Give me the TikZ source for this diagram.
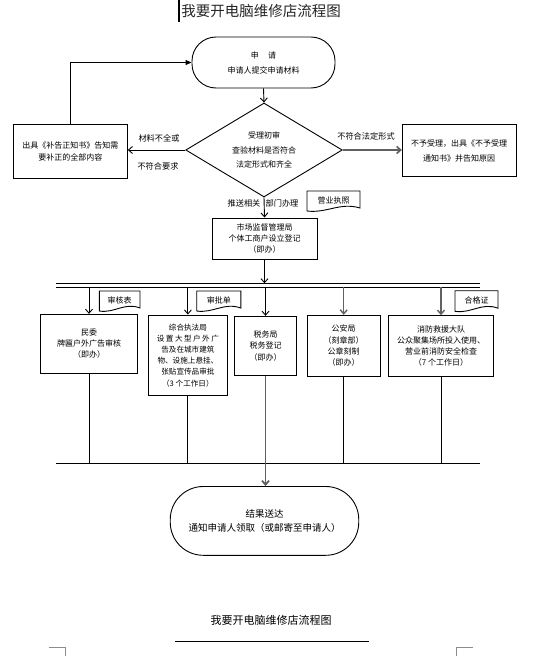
\documentclass[tikz,border=0pt]{standalone}
\usepackage{fontspec}
\setmainfont{Noto Sans CJK SC}
\usetikzlibrary{arrows.meta,shapes.geometric}
\newcommand\docshp[6]{%
  \draw[ln] (#2,#3) -- (#4,#3) -- (#4,{#3+0.85*(#5-#3)})
    .. controls ({#2+0.62*(#4-#2)},{#3+0.55*(#5-#3)}) and ({#2+0.38*(#4-#2)},{#3+1.12*(#5-#3)}) .. (#2,#5) -- cycle;
  \node[txt] (#1) at ({(#2+#4)/2},{#3+0.45*(#5-#3)}) {#6};
}
\tikzset{
  txt/.style={font=\fontsize{8}{11.3}\selectfont, align=center, inner sep=0pt},
  box/.style={txt, draw, rectangle, line width=1pt},
  term/.style={txt, draw, rectangle, line width=0.9pt},
  ln/.style={line width=0.9pt},
  arr/.style={line width=0.9pt, -{Straight Barb[length=4pt,width=7pt]}},
  grayarr/.style={arr, draw=black!62, line width=1.6pt},
  lbl/.style={inner sep=0pt, font=\fontsize{8.2}{10}\selectfont},
}
\begin{document}
\begin{tikzpicture}[x=1pt,y=-1pt]
\fill[white] (0,0) rectangle (539,656);
\useasboundingbox (0,0) rectangle (539,656);

% title and cursor bar
\draw[line width=2pt] (179,0) -- (179,22);
\node[inner sep=0pt, font=\fontsize{14.5}{16}\selectfont, text=black!85] (title) at (261,11) {我要开电脑维修店流程图};

% start terminal
\node[term, rounded corners=24pt, minimum width=143pt, minimum height=51pt,
      font=\fontsize{8}{15}\selectfont] (start) at (263.5,62.5) {申\hspace{9.5pt}请\\申请人提交申请材料};

% diamond
\node[txt, draw, diamond, aspect=1.66, line width=0.9pt, minimum width=156.5pt, minimum height=94pt,
      font=\fontsize{8}{14.7}\selectfont] (dia) at (264,150) {受理初审\\查验材料是否符合\\法定形式和齐全};

% left and right boxes
\node[box, minimum width=113.8pt, minimum height=54.7pt, font=\fontsize{8}{11.7}\selectfont]
   (lbox) at (70.4,151.6) {出具《补告正知书》告知需\\要补正的全部内容};
\node[box, minimum width=113.7pt, minimum height=52.4pt, font=\fontsize{8}{15}\selectfont]
   (rbox) at (459.2,150.5) {不予受理，出具《不予受理\\通知书》并告知原因};

% market box
\node[box, minimum width=105pt, minimum height=41pt] (market) at (264.5,238.5)
   {市场监督管理局\\个体工商户设立登记\\（即办）};

% branch boxes
\node[box, minimum width=96.6pt, minimum height=58.7pt] (b1) at (89,343.7)
   {民委\\牌匾户外广告审核\\（即办）};
\node[box, minimum width=79.2pt, minimum height=80.3pt, font=\fontsize{7.6}{11.2}\selectfont] (b2) at (187.9,355.2)
   {综合执法局\\\makebox[62pt][s]{设\hfill 置\hfill 大\hfill 型\hfill 户\hfill 外\hfill 广}\\告及在城市建筑\\物、设施上悬挂、\\张贴宣传品审批\\（3 个工作日）};
\node[box, minimum width=62.2pt, minimum height=59pt] (b3) at (265.5,345.8)
   {税务局\\税务登记\\（即办）};
\node[box, minimum width=72.7pt, minimum height=61pt] (b4) at (343.7,345.8)
   {公安局\\（刻章部）\\公章刻制\\（即办）};
\node[box, minimum width=105.3pt, minimum height=60.6pt] (b5) at (441,346)
   {消防救援大队\\公众聚集场所投入使用、\\营业前消防安全检查\\（7 个工作日）};

% result terminal
\node[term, rounded corners=33pt, minimum width=188.5pt, minimum height=68.8pt,
      font=\fontsize{9.5}{14.3}\selectfont] (result) at (264.5,520.9)
   {结果送达\\通知申请人领取（或邮寄至申请人）};

% document shapes
\docshp{docA}{307}{191}{360}{211}{营业执照}
\docshp{docB}{99.3}{291}{140}{311}{审核表}
\docshp{docC}{196.7}{291}{240.8}{311}{审批单}
\docshp{docD}{455}{290.7}{498}{311.3}{合格证}

% labels
\node[lbl] (l1) at (159,138.3) {材料不全或};
\node[lbl] (l2) at (158,166.7) {不符合要求};
\node[lbl] (l3) at (366,136.7) {不符合法定形式};
\node[lbl] (l4) at (244,203) {推送相关};
\node[lbl] (l5) at (282,203) {部门办理};

% connectors top part
\draw[arr] (start.south) -- (dia.north);
\draw[arr] (dia.west) -- (dia.west -| lbox.east);
\draw[grayarr] (dia.east) -- (dia.east -| rbox.west);
\draw[ln, -{Triangle[length=6pt,width=5pt]}] (lbox.north) |- (start.west);
\draw[arr] (dia.south) -- (market.north);

% double bus line
\coordinate (dlA) at (56,283.3);
\coordinate (dlB) at (480,283.3);
\coordinate (dlC) at (56,287.3);
\coordinate (dlD) at (480,287.3);
\draw[ln] (dlA) -- (dlB);
\draw[ln] (dlC) -- (dlD);
\draw[arr] (market.south) -- (market.south |- dlA);

% branch arrows
\draw[arr] (b1.north |- dlC) -- (b1.north);
\draw[arr] (b2.north |- dlC) -- (b2.north);
\draw[arr] (b3.north |- dlC) -- (b3.north);
\draw[grayarr, line width=1.4pt] (b4.north |- dlC) -- (b4.north);
\draw[grayarr, line width=1.4pt] (b5.north |- dlC) -- (b5.north);

% bottom bus line
\coordinate (blA) at (56,463.3);
\coordinate (blB) at (480,463.3);
\draw[ln] (blA) -- (blB);
\draw[ln] (b1.south) -- (b1.south |- blA);
\draw[ln] (b2.south) -- (b2.south |- blA);
\draw[ln] (b4.south) -- (b4.south |- blA);
\draw[ln] (b5.south) -- (b5.south |- blA);
\draw[grayarr, line width=1.8pt] (b3.south) -- (b3.south |- result.north);

% footer
\node[inner sep=0pt, font=\fontsize{11}{13}\selectfont] (footer) at (271,620.7) {我要开电脑维修店流程图};
\draw[line width=1pt] (175,641) -- (368.8,641);

% corner marks
\draw[black!45, line width=0.7pt] (49.2,647.3) -- (65.4,647.3) -- (65.4,656);
\draw[black!45, line width=0.7pt] (456.8,656) -- (456.8,647.3) -- (473,647.3);
\end{tikzpicture}
\end{document}
